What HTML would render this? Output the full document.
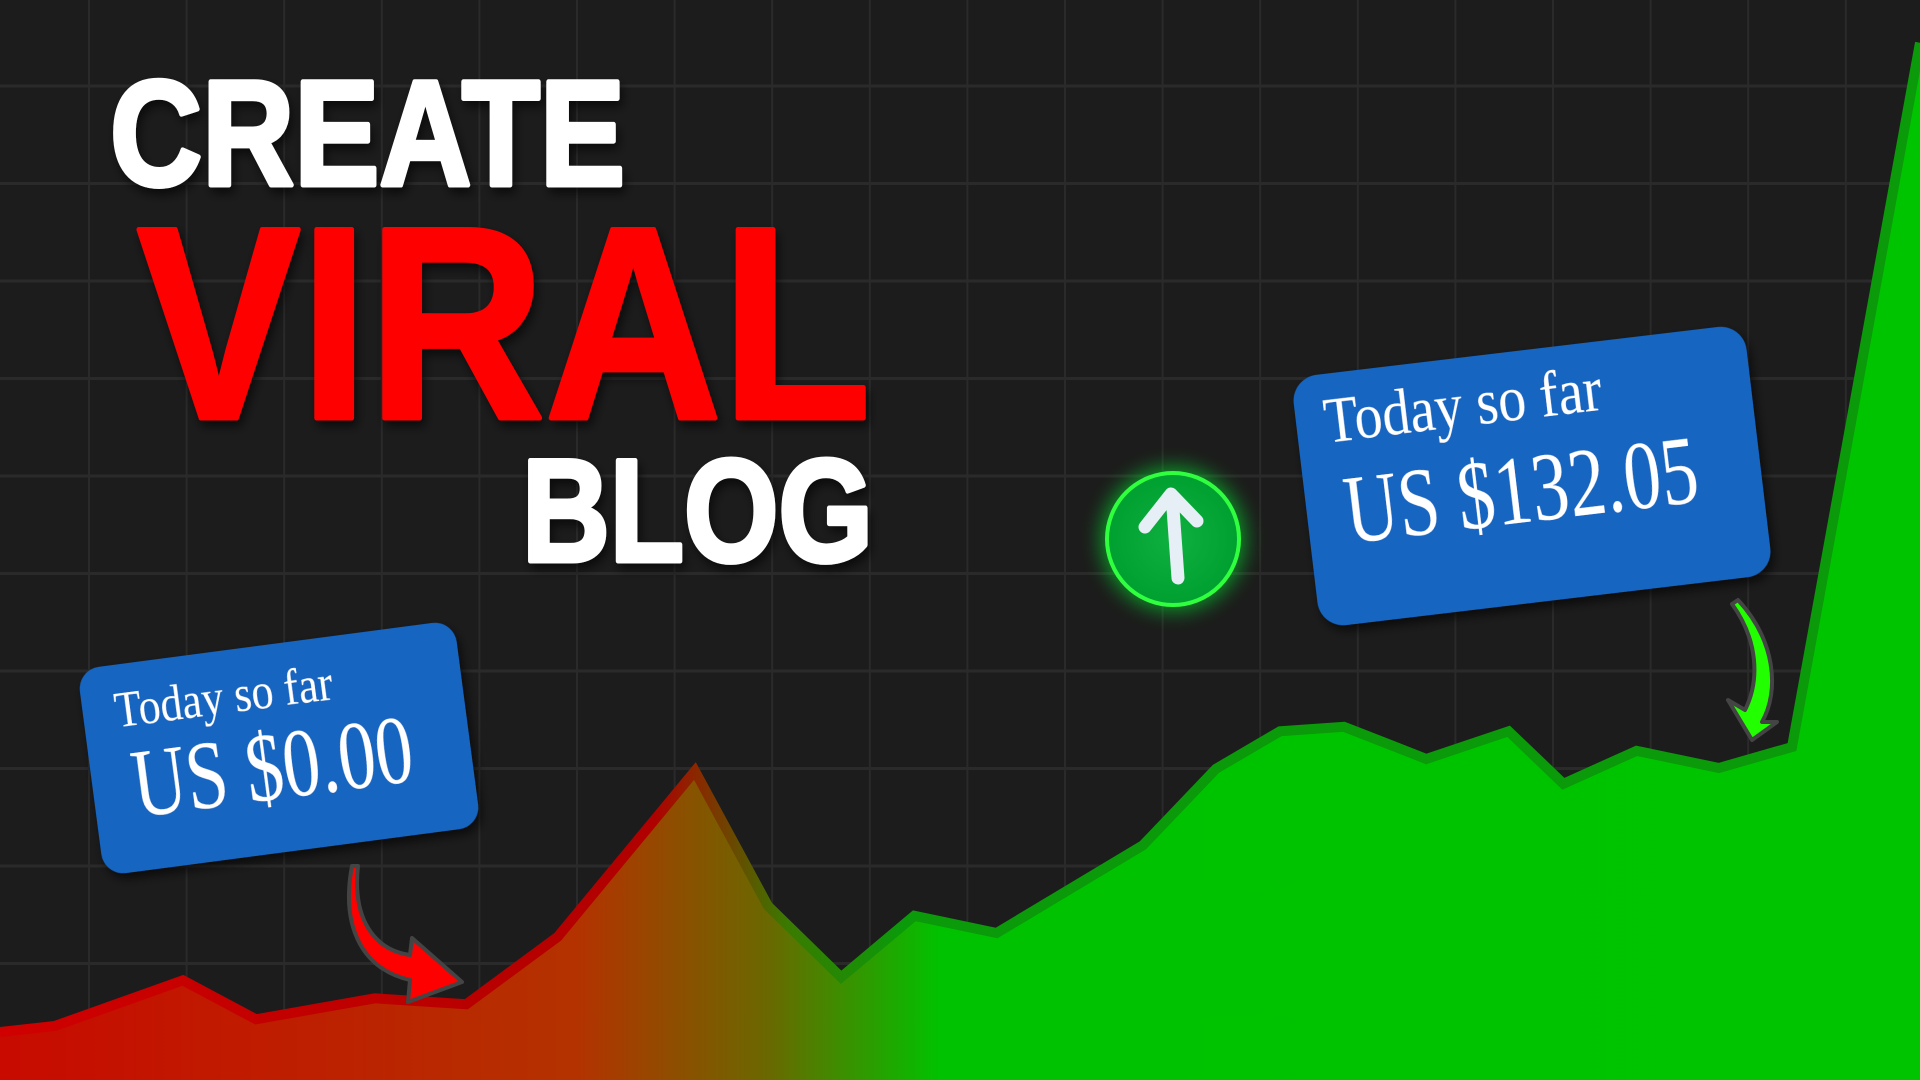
<!DOCTYPE html>
<html><head><meta charset="utf-8"><style>
html,body{margin:0;padding:0;background:#1c1c1c;width:1920px;height:1080px;overflow:hidden}
svg{display:block}
</style></head><body>
<svg id="chart" width="1920" height="1080" viewBox="0 0 1920 1080" xmlns="http://www.w3.org/2000/svg">
<defs>
<linearGradient id="fillGrad" x1="0" y1="0" x2="1920" y2="0" gradientUnits="userSpaceOnUse">
<stop offset="0" stop-color="#c80a00"/><stop offset="0.3" stop-color="#b43200"/><stop offset="0.4" stop-color="#6a6800"/><stop offset="0.49" stop-color="#00c200"/><stop offset="1" stop-color="#00c400"/>
</linearGradient>
<linearGradient id="lineGrad" x1="0" y1="0" x2="1920" y2="0" gradientUnits="userSpaceOnUse">
<stop offset="0" stop-color="#d00000"/><stop offset="0.34" stop-color="#b00000"/><stop offset="0.41" stop-color="#3a7a00"/><stop offset="0.47" stop-color="#0a9a0a"/><stop offset="1" stop-color="#0a9a0a"/>
</linearGradient>
<radialGradient id="circGrad" cx="0.5" cy="0.5" r="0.5">
<stop offset="0" stop-color="#10b040"/><stop offset="1" stop-color="#00a030"/>
</radialGradient>
<filter id="glow" x="-50%" y="-50%" width="200%" height="200%"><feGaussianBlur stdDeviation="10"/></filter>
<filter id="shadow" x="-10%" y="-10%" width="120%" height="130%"><feDropShadow dx="3" dy="6" stdDeviation="5" flood-color="#000" flood-opacity="0.6"/></filter>
</defs>
<rect width="1920" height="1080" fill="#1c1c1c"/>
<g id="grid"></g>
<g id="series"></g>

<g font-family="'Liberation Sans', sans-serif" font-weight="bold" filter="url(#shadow)" stroke-width="5" stroke-linejoin="round">
<text x="110" y="185" font-size="150" fill="#ffffff" stroke="#ffffff" textLength="515" lengthAdjust="spacingAndGlyphs">CREATE</text>
<text x="137" y="418" font-size="274" fill="#ff0000" stroke="#ff0000" textLength="734" lengthAdjust="spacingAndGlyphs">VIRAL</text>
<text x="522" y="561" font-size="146" fill="#ffffff" stroke="#ffffff" textLength="351" lengthAdjust="spacingAndGlyphs">BLOG</text>
</g>

<g transform="translate(279,748) rotate(-7.5)" filter="url(#shadow)">
<rect x="-190" y="-104" width="380" height="208" rx="22" fill="#1565c0"/>
<text x="-158" y="-36" font-family="'Liberation Serif', serif" font-size="44" fill="#fff" transform="scale(1,1.15)">Today so far</text>
<text x="-150" y="40" font-family="'Liberation Serif', serif" font-size="78" fill="#fff" transform="scale(1,1.25)" textLength="282" lengthAdjust="spacingAndGlyphs">US $0.00</text>
</g>

<g transform="translate(1532,476) rotate(-6.8)" filter="url(#shadow)">
<rect x="-228" y="-126" width="456" height="252" rx="26" fill="#1565c0"/>
<text x="-200" y="-50" font-family="'Liberation Serif', serif" font-size="56" fill="#fff" transform="scale(1,1.15)">Today so far</text>
<text x="-190" y="36" font-family="'Liberation Serif', serif" font-size="78" fill="#fff" transform="scale(1,1.25)" textLength="355" lengthAdjust="spacingAndGlyphs">US $132.05</text>
</g>

<g>
<circle cx="1173" cy="539" r="72" fill="#00ff30" opacity="0.55" filter="url(#glow)"/>
<circle cx="1173" cy="539" r="66" fill="url(#circGrad)" stroke="#30ff40" stroke-width="4"/>
<path d="M1178 578 L1172 495 M1145 527 L1171 494 L1197 521" stroke="#e6eef6" stroke-width="13" fill="none" stroke-linecap="round" stroke-linejoin="round"/>
</g>

<g>
<path d="M358 866 C352 920 375 950 410 955 L412 938 L462 982 L408 1002 L410 980 C365 970 340 930 352 866 Z" fill="#ff0000" stroke="#444" stroke-width="4" stroke-linejoin="round"/>
</g>
<g>
<path d="M1738 600 C1775 640 1780 690 1762 722 L1777 722 L1752 740 L1728 700 L1745 710 C1760 680 1758 640 1732 604 Z" fill="#22ff00" stroke="#444" stroke-width="4" stroke-linejoin="round"/>
</g>

<script>
const times = [0,0.6,2,2.8,4.1,5.1,6.1,7.6,8.4,9.2,10,10.9,12.5,13.3,14,14.7,15.6,16.5,17.1,17.9,18.8,19.6,21];
const earnings = [6.4,7.2,13.3,8.1,10.9,10.1,19.1,41.2,23.2,13.7,21.9,19.6,31.3,41.5,46.5,47.1,42.8,46.5,39.5,43.9,41.6,44.4,138.3];
const gridXCount = 20;
const gridYCount = 11;

const NS = 'http://www.w3.org/2000/svg';
const xScale = t => t / 21 * 1920;
const yScale = v => 1080 - v * 7.5;

const grid = document.getElementById('grid');
for (let i = 0; i < gridXCount; i++) {
  const x = 89 + i * 97.6;
  const l = document.createElementNS(NS, 'line');
  
  
  l.setAttribute('x1', x); l.setAttribute('x2', x);
  l.setAttribute('y1', 0); l.setAttribute('y2', 1080);
  l.setAttribute('stroke', '#2a2a2a'); l.setAttribute('stroke-width', '2');
  grid.appendChild(l);
}
for (let i = 0; i < gridYCount; i++) {
  const y = 86 + i * 97.5;
  const l = document.createElementNS(NS, 'line');
  
  
  l.setAttribute('x1', 0); l.setAttribute('x2', 1920);
  l.setAttribute('y1', y); l.setAttribute('y2', y);
  l.setAttribute('stroke', '#2a2a2a'); l.setAttribute('stroke-width', '3');
  grid.appendChild(l);
}

const series = document.getElementById('series');
let d = '';
times.forEach((t, i) => { d += (i ? ' L' : 'M') + xScale(t).toFixed(1) + ' ' + yScale(earnings[i]).toFixed(1); });
const area = document.createElementNS(NS, 'path');


area.setAttribute('d', d + ' L1920 1080 L0 1080 Z');
area.setAttribute('fill', 'url(#fillGrad)');
series.appendChild(area);
const line = document.createElementNS(NS, 'path');


line.setAttribute('d', d);
line.setAttribute('fill', 'none');
line.setAttribute('stroke', 'url(#lineGrad)');
line.setAttribute('stroke-width', '10');
line.setAttribute('stroke-linejoin', 'miter');
series.appendChild(line);
</script>
</svg>
</body></html>
